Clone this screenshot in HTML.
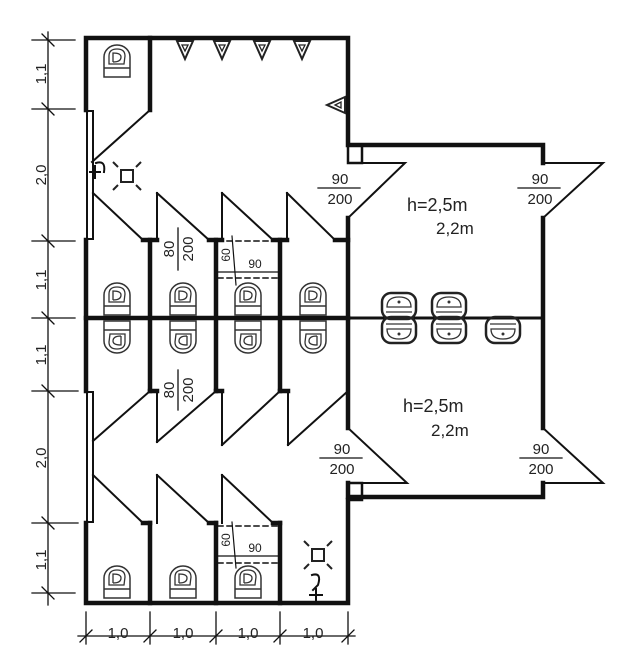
<!DOCTYPE html>
<html><head><meta charset="utf-8"><style>
html,body{margin:0;padding:0;background:#fff;}
svg{display:block;}
text{font-family:"Liberation Sans",sans-serif;fill:#222;}
</style></head><body>
<svg width="638" height="651" viewBox="0 0 638 651" xmlns="http://www.w3.org/2000/svg">
<defs>
<g id="wc">
<path d="M0,33 L0,13 A13,12 0 0 1 26,13 L26,33 Z" fill="none" stroke="#333" stroke-width="1.5"/>
<line x1="0" y1="24" x2="26" y2="24" stroke="#333" stroke-width="1.5"/>
<path d="M5,20 L5,12 Q5,5 13,5 Q21,5 21,12 L20,20 Z" fill="none" stroke="#333" stroke-width="1.3"/>
<path d="M9,18 L9,9 Q17,9 17,13 Q17,18 9,18" fill="none" stroke="#333" stroke-width="1.3"/>
</g>
<g id="sink">
<rect x="0" y="0" width="34" height="26" rx="9" fill="none" stroke="#222" stroke-width="2.5"/>
<path d="M5,14 Q5,4 17,4 Q29,4 29,14 Z" fill="none" stroke="#333" stroke-width="1.3"/>
<line x1="4" y1="19" x2="30" y2="19" stroke="#333" stroke-width="1.3"/>
<circle cx="17" cy="9" r="1.5" fill="#333"/>
</g>
<g id="tri"><path d="M-8,0 L8,0 L0,18 Z" fill="none" stroke="#222" stroke-width="2"/><path d="M-3,4 L3,4 L0,10 Z" fill="none" stroke="#222" stroke-width="1.3"/></g>
<g id="lamp" stroke="#222" stroke-width="2" fill="none">
<rect x="-6" y="-6" width="12" height="12"/>
<line x1="-14" y1="-14" x2="-9" y2="-9"/><line x1="14" y1="-14" x2="9" y2="-9"/>
<line x1="-14" y1="14" x2="-9" y2="9"/><line x1="14" y1="14" x2="9" y2="9"/>
</g>
</defs>

<g stroke="#111" fill="none" stroke-linecap="square">
<g stroke-width="4.5">
<path d="M86,110 L86,38 L348,38 L348,145 L543,145 L543,163"/>
<path d="M86,240 L86,391"/>
<path d="M86,523 L86,603 L348,603 L348,500"/>
<path d="M348,218 L348,428"/>
<path d="M543,218 L543,428"/>
<path d="M348,483 L348,497 L543,497 L543,483"/>
<path d="M150,38 L150,110"/>
<path d="M150,240 L150,391 M216,240 L216,391 M280,240 L280,391"/>
<path d="M150,523 L150,603 M216,523 L216,603 M280,523 L280,603"/>
<path d="M143,240 L157,240 M209,240 L222,240 M273,240 L287,240 M335,240 L348,240"/>
<path d="M150,391 L157,391 M216,391 L222,391 M280,391 L288,391"/>
<path d="M143,523 L150,523 M209,523 L216,523 M273,523 L280,523"/>
<path d="M86,318 L348,318"/>
<path d="M348,145 L362,145 L362,163 L348,163 Z" stroke-width="2.5"/>
<path d="M348,483 L362,483 L362,500 L348,500 Z" stroke-width="2.5"/>
</g>
<line x1="348" y1="318" x2="543" y2="318" stroke-width="3"/>
<g stroke-width="2">
<rect x="87" y="111" width="6" height="128"/>
<rect x="87" y="392" width="6" height="130"/>
<!-- door leaves -->
<path d="M157,193 L157,240 M222,193 L222,240 M287,193 L287,240"/>
<path d="M157,391 L157,442 M222,391 L222,445 M288,391 L288,445"/>
<path d="M157,475 L157,523 M222,475 L222,523"/>
<!-- door swings -->
<path d="M150,110 L92,162"/>
<path d="M93,193 L143,240 M157,193 L209,240 M222,193 L273,240 M287,193 L335,240"/>
<path d="M150,391 L93,441 M216,391 L157,442 M280,391 L222,445 M348,391 L288,445"/>
<path d="M93,475 L143,523 M157,475 L209,523 M222,475 L273,523"/>
<path d="M348,163 L405,163 L348,218"/>
<path d="M543,163 L603,163 L543,218"/>
<path d="M348,428 L407,483 L348,483"/>
<path d="M543,428 L603,483 L543,483"/>
</g>
<g stroke-width="1.5" stroke-dasharray="5,4">
<line x1="218" y1="241" x2="278" y2="241"/><line x1="218" y1="278" x2="278" y2="278"/>
<line x1="218" y1="526" x2="278" y2="526"/><line x1="218" y1="563" x2="278" y2="563"/>
</g>
<g stroke-width="1.2">
<line x1="218" y1="272" x2="278" y2="272"/><line x1="232" y1="236" x2="236" y2="285"/>
<line x1="218" y1="556" x2="278" y2="556"/><line x1="232" y1="522" x2="236" y2="568"/>
</g>
<g stroke-width="1.3">
<line x1="48" y1="32" x2="48" y2="605"/>
<line x1="32" y1="40" x2="75" y2="40"/><line x1="32" y1="109" x2="75" y2="109"/>
<line x1="32" y1="241" x2="75" y2="241"/><line x1="32" y1="318" x2="75" y2="318"/>
<line x1="32" y1="391" x2="78" y2="391"/><line x1="32" y1="523" x2="78" y2="523"/>
<line x1="32" y1="593" x2="75" y2="593"/>
<path d="M42,34 L54,46 M42,103 L54,115 M42,235 L54,247 M42,312 L54,324 M42,385 L54,397 M42,517 L54,529 M42,587 L54,599"/>
<line x1="78" y1="636" x2="355" y2="636"/>
<path d="M86,612 L86,644 M150,612 L150,644 M216,612 L216,644 M280,612 L280,644 M348,612 L348,644"/>
<path d="M80,642 L92,630 M144,642 L156,630 M210,642 L222,630 M274,642 L286,630 M342,642 L354,630"/>
</g>
<g stroke-width="1.3">
<line x1="318" y1="188" x2="360" y2="188"/><line x1="518" y1="188" x2="560" y2="188"/>
<line x1="320" y1="458" x2="362" y2="458"/><line x1="520" y1="458" x2="562" y2="458"/>
<line x1="178" y1="228" x2="178" y2="270"/><line x1="178" y1="370" x2="178" y2="410"/>
</g>
<path d="M90,172 L100,172 M95,166 L95,178 M96,163 Q106,160 104,172" stroke-width="2"/>
<path d="M310,595 L322,595 M316,589 L316,600 M312,575 Q322,572 318,585 L313,590" stroke-width="2"/>
</g>

<use href="#lamp" x="127" y="176"/>
<use href="#lamp" x="318" y="555"/>
<use href="#tri" x="185" y="41"/><use href="#tri" x="222" y="41"/><use href="#tri" x="262" y="41"/><use href="#tri" x="302" y="41"/>
<g transform="translate(345,105) rotate(90)"><use href="#tri"/></g>

<use href="#wc" x="104" y="44"/>
<use href="#wc" x="104" y="282"/><use href="#wc" x="170" y="282"/><use href="#wc" x="235" y="282"/><use href="#wc" x="300" y="282"/>
<use href="#wc" transform="translate(130,354) rotate(180)"/><use href="#wc" transform="translate(196,354) rotate(180)"/><use href="#wc" transform="translate(261,354) rotate(180)"/><use href="#wc" transform="translate(326,354) rotate(180)"/>
<use href="#wc" x="104" y="565"/><use href="#wc" x="170" y="565"/><use href="#wc" x="235" y="565"/>

<use href="#sink" x="382" y="293"/><use href="#sink" x="432" y="293"/>
<use href="#sink" transform="translate(416,343) rotate(180)"/><use href="#sink" transform="translate(466,343) rotate(180)"/><use href="#sink" transform="translate(520,343) rotate(180)"/>

<g font-size="15">
<text transform="translate(42,74) rotate(-90)" text-anchor="middle" dominant-baseline="middle">1,1</text>
<text transform="translate(42,175) rotate(-90)" text-anchor="middle" dominant-baseline="middle">2,0</text>
<text transform="translate(42,280) rotate(-90)" text-anchor="middle" dominant-baseline="middle">1,1</text>
<text transform="translate(42,355) rotate(-90)" text-anchor="middle" dominant-baseline="middle">1,1</text>
<text transform="translate(42,458) rotate(-90)" text-anchor="middle" dominant-baseline="middle">2,0</text>
<text transform="translate(42,560) rotate(-90)" text-anchor="middle" dominant-baseline="middle">1,1</text>
<text x="118" y="638" text-anchor="middle">1,0</text>
<text x="183" y="638" text-anchor="middle">1,0</text>
<text x="248" y="638" text-anchor="middle">1,0</text>
<text x="313" y="638" text-anchor="middle">1,0</text>
<text x="340" y="184" text-anchor="middle">90</text><text x="340" y="204" text-anchor="middle">200</text>
<text x="540" y="184" text-anchor="middle">90</text><text x="540" y="204" text-anchor="middle">200</text>
<text x="342" y="454" text-anchor="middle">90</text><text x="342" y="474" text-anchor="middle">200</text>
<text x="541" y="454" text-anchor="middle">90</text><text x="541" y="474" text-anchor="middle">200</text>
<text x="407" y="211" font-size="18">h=2,5m</text><text x="436" y="234" font-size="17">2,2m</text>
<text x="403" y="412" font-size="18">h=2,5m</text><text x="431" y="436" font-size="17">2,2m</text>
<text transform="translate(174,249) rotate(-90)" text-anchor="middle">80</text>
<text transform="translate(193,249) rotate(-90)" text-anchor="middle">200</text>
<text transform="translate(174,390) rotate(-90)" text-anchor="middle">80</text>
<text transform="translate(193,390) rotate(-90)" text-anchor="middle">200</text>
</g>
<g font-size="12">
<text transform="translate(230,255) rotate(-90)" text-anchor="middle">60</text>
<text x="255" y="268" text-anchor="middle">90</text>
<text transform="translate(230,540) rotate(-90)" text-anchor="middle">60</text>
<text x="255" y="552" text-anchor="middle">90</text>
</g>
</svg>
</body></html>
